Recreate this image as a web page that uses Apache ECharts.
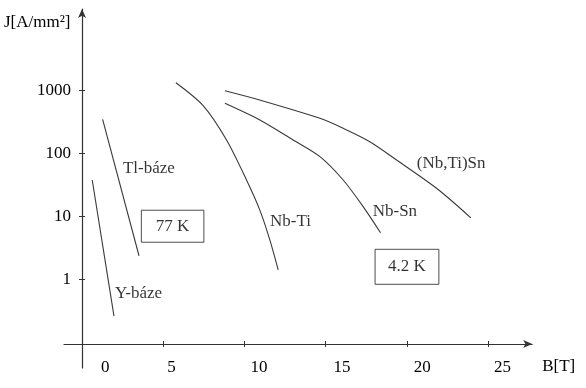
<!DOCTYPE html>
<html><head><meta charset="utf-8">
<script src="https://cdn.jsdelivr.net/npm/echarts@6/dist/echarts.min.js"></script>
<style>html,body{margin:0;padding:0;background:#fff}#c{width:586px;height:388px}</style>
</head><body><div id="c"></div>
<script>
// Data: [B (T), J (A/mm2)]
const yBaze  = [[0.63, 37.9], [1.97, 0.26]];
const tlBaze = [[1.27, 350], [3.51, 2.37]];
const nbTi   = [[5.78, 1336], [7.46, 577], [8.90, 164], [10.13, 37.9], [10.95, 12.6], [11.57, 4.2], [12.08, 1.41]];
const nbSn   = [[8.80, 628], [10.95, 341], [13.0, 164], [14.65, 89], [16.08, 37.9], [17.31, 14.3], [18.38, 5.5]];
const nbTiSn = [[8.80, 996], [10.95, 709], [14.65, 363], [16.08, 252], [17.72, 154], [19.37, 78.8], [21.83, 28], [23.94, 9.5]];
const xTickLabels = [0, 5, 10, 15, 20, 25];
const xTicks = [5, 10, 15, 20, 25];
const yTickLabels = [1, 10, 100, 1000];

const FONT = 'Liberation Serif';
const AX = '#333';
const xPad = {0: 19, 5: 4, 10: 6, 15: 8, 20: 7, 25: 6};
const rich = {};
xTickLabels.forEach(v => { rich['p' + v] = {fontFamily: FONT, fontSize: 17, color: '#000', padding: [0, 0, 0, xPad[v]]}; });

const X_MIN = -1.108, X_MAX = 27.72, Y_MIN = 0.0389, Y_MAX = 19830;
const lineSeries = (name, data, smooth) => ({
  name, type: 'line', data, smooth, showSymbol: false, silent: true,
  lineStyle: {color: '#3a3a3a', width: 1.1}
});
const txt = {fontFamily: FONT, fontSize: 17, color: '#000', lineHeight: 17};

const chart = echarts.init(document.getElementById('c'));
chart.setOption({
  animation: false,
  backgroundColor: '#fff',
  title: {text: 'J[A/mm²]', left: 4, top: 14, padding: 0,
    textStyle: {fontFamily: FONT, fontSize: 17, fontWeight: 'normal', color: '#000', lineHeight: 17}},
  grid: {left: 64, right: 53.8, top: 9, bottom: 20, containLabel: false},
  xAxis: [{
    type: 'value', min: X_MIN, max: X_MAX, position: 'bottom', offset: -24,
    splitLine: {show: false},
    axisLine: {show: true, onZero: false, symbol: ['none', 'arrow'], symbolSize: [6, 9], lineStyle: {color: AX, width: 1.2}},
    axisTick: {show: true, customValues: xTicks, length: 3, lineStyle: {color: AX, width: 1}},
    axisLabel: {show: true, customValues: xTickLabels, margin: 15, align: 'left',
      formatter: v => '{p' + v + '|' + v + '}', rich},
    name: 'B[T]', nameLocation: 'end', nameGap: 10,
    nameTextStyle: {fontFamily: FONT, fontSize: 17, color: '#000', verticalAlign: 'top', align: 'left', padding: [14, 0, 0, 0]}
  }, {
    type: 'value', min: X_MIN, max: X_MAX, position: 'bottom', offset: -24,
    splitLine: {show: false},
    axisLine: {show: false, onZero: false},
    axisTick: {show: true, inside: true, customValues: xTicks, length: 3, lineStyle: {color: AX, width: 1}},
    axisLabel: {show: false}
  }],
  yAxis: [{
    type: 'log', logBase: 10, min: Y_MIN, max: Y_MAX, position: 'left', offset: -18,
    splitLine: {show: false}, minorTick: {show: false},
    axisLine: {show: true, onZero: false, symbol: ['none', 'arrow'], symbolSize: [6, 9], lineStyle: {color: AX, width: 1.2}},
    axisTick: {show: true, customValues: yTickLabels, length: 3, lineStyle: {color: AX, width: 1}},
    axisLabel: {show: true, customValues: yTickLabels, margin: 12, align: 'right', padding: [0, -1, 0, 0],
      fontFamily: FONT, fontSize: 17, color: '#000',
      formatter: v => String(Math.round(v))}
  }, {
    type: 'log', logBase: 10, min: Y_MIN, max: Y_MAX, position: 'left', offset: -18,
    splitLine: {show: false},
    axisLine: {show: false, onZero: false},
    axisTick: {show: true, inside: true, customValues: yTickLabels, length: 3, lineStyle: {color: AX, width: 1}},
    axisLabel: {show: false}
  }],
  series: [
    lineSeries('Y-báze', yBaze, false),
    lineSeries('Tl-báze', tlBaze, false),
    lineSeries('Nb-Ti', nbTi, 0.3),
    lineSeries('Nb-Sn', nbSn, 0.3),
    lineSeries('(Nb,Ti)Sn', nbTiSn, 0.3),
    {
      type: 'scatter', symbolSize: 0, silent: true,
      label: Object.assign({show: true, formatter: '{b}', position: 'right', distance: 0}, txt),
      data: [
        {name: 'Tl-báze', value: [2.52, 56.7]},
        {name: 'Y-báze', value: [2.03, 0.605]},
        {name: 'Nb-Ti', value: [11.58, 8.24]},
        {name: 'Nb-Sn', value: [17.9, 11.9]},
        {name: '(Nb,Ti)Sn', value: [20.61, 69.8]},
        {name: '77 K', value: [5.58, 6.98], label: {position: 'inside', borderColor: '#222', borderWidth: 1, padding: [7.5, 14.5]}},
        {name: '4.2 K', value: [20.01, 1.58], label: {position: 'inside', borderColor: '#222', borderWidth: 1, padding: [9, 13]}}
      ]
    }
  ]
});
</script>
</body></html>
